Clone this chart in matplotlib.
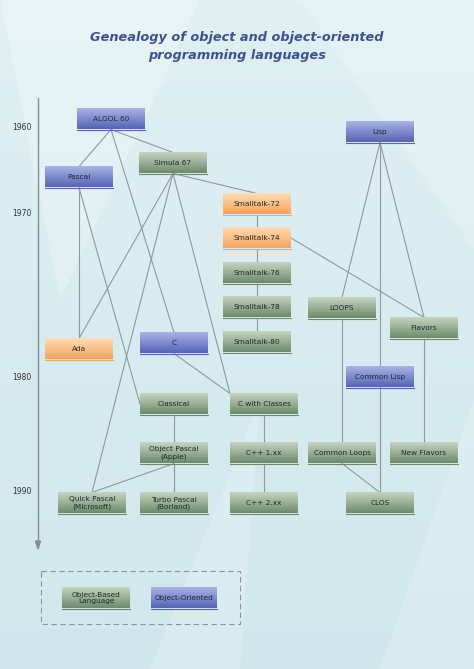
import matplotlib
matplotlib.use("Agg")
import matplotlib.pyplot as plt
import numpy as np
from matplotlib.patches import Rectangle, Polygon

# ---- data ----
years = ["1960", "1970", "1980", "1990"]
nodes = ["ALGOL 60", "Pascal", "Simula 67", "Smalltalk-72", "Smalltalk-74", "Smalltalk-76",
         "Smalltalk-78", "Smalltalk-80", "Lisp", "LOOPS", "Flavors", "Ada", "C", "Common Lisp",
         "Classical", "C with Classes", "Object Pascal\n(Apple)", "C++ 1.xx", "Common Loops",
         "New Flavors", "Quick Pascal\n(Microsoft)", "Turbo Pascal\n(Borland)", "C++ 2.xx", "CLOS"]
kinds = ["oo", "oo", "ob", "or", "or", "ob", "ob", "ob", "oo", "ob", "ob", "or", "oo", "oo",
         "ob", "ob", "ob", "ob", "ob", "ob", "ob", "ob", "ob", "ob"]
edges = [("ALGOL 60", "Pascal"), ("ALGOL 60", "Simula 67"), ("ALGOL 60", "C"),
         ("Simula 67", "Smalltalk-72"), ("Simula 67", "Ada"), ("Simula 67", "Quick Pascal\n(Microsoft)"),
         ("Simula 67", "C with Classes"), ("Pascal", "Ada"), ("Pascal", "Classical"),
         ("C", "C with Classes"), ("Smalltalk-72", "Smalltalk-74"), ("Smalltalk-74", "Smalltalk-76"),
         ("Smalltalk-76", "Smalltalk-78"), ("Smalltalk-78", "Smalltalk-80"), ("Smalltalk-74", "Flavors"),
         ("Lisp", "LOOPS"), ("Lisp", "Flavors"), ("Lisp", "CLOS"), ("LOOPS", "Common Loops"),
         ("Flavors", "New Flavors"), ("Common Loops", "CLOS"), ("Classical", "Object Pascal\n(Apple)"),
         ("Object Pascal\n(Apple)", "Turbo Pascal\n(Borland)"), ("Object Pascal\n(Apple)", "Quick Pascal\n(Microsoft)"),
         ("C with Classes", "C++ 1.xx"), ("C++ 1.xx", "C++ 2.xx")]
legend_labels = ["Object-Based\nLanguage", "Object-Oriented"]
legend_kinds = ["ob", "oo"]

# ---- layout (pixel coords) ----
pos = [(111, 119), (79, 177), (173, 163), (257, 204), (257, 238), (257, 273), (257, 307),
       (257, 342), (380, 132), (342, 308), (424, 328), (79, 349), (174, 343), (380, 377),
       (174, 404), (264, 404), (174, 453), (264, 453), (342, 453), (424, 453), (92, 503),
       (174, 503), (264, 503), (380, 503)]
year_y = [127, 213, 377, 491]
W, H = 68, 21
P = dict(zip(nodes, pos))
colors = {"oo": ("#aab2e6", "#5664b4"), "ob": ("#c6d4bf", "#6d8a6a"), "or": ("#ffdcb4", "#f5a45c")}

fig = plt.figure(figsize=(4.74, 6.69), dpi=100)
ax = fig.add_axes([0, 0, 1, 1])
ax.set_xlim(0, 474); ax.set_ylim(669, 0); ax.axis("off")

# background
bg = np.linspace(0, 1, 200)[:, None] * np.ones((1, 10))
ax.imshow(bg, extent=(0, 474, 669, 0), cmap=matplotlib.colors.LinearSegmentedColormap.from_list(
    "bg", ["#e0f0f3", "#cfe7ec"]), aspect="auto", zorder=0)
for pts, a in [([(0, 0), (200, 0), (60, 300)], 0.25), ([(300, 0), (474, 0), (474, 250)], 0.2),
               ([(150, 669), (260, 400), (240, 669)], 0.2), ([(380, 669), (474, 400), (474, 669)], 0.2)]:
    ax.add_patch(Polygon(pts, closed=True, color="white", alpha=a, lw=0, zorder=0.5))

ax.text(237, 37, "Genealogy of object and object-oriented", ha="center", va="center",
        fontsize=9.3, fontweight="bold", style="italic", color="#3b5290")
ax.text(237, 55, "programming languages", ha="center", va="center",
        fontsize=9.3, fontweight="bold", style="italic", color="#3b5290")

# timeline
ax.plot([38, 38], [98, 543], color="#7f8f95", lw=1, zorder=1)
ax.add_patch(Polygon([(35.5, 541), (40.5, 541), (38, 549)], closed=True, color="#7f8f95", zorder=1))
for yl, yy in zip(years, year_y):
    ax.text(22, yy, yl, ha="center", va="center", fontsize=5.5, color="#333")

def grad(cx, cy, w, h, kind, z=3):
    top, bot = colors[kind]
    cm = matplotlib.colors.LinearSegmentedColormap.from_list("g", [top, bot])
    ax.imshow(np.linspace(0, 1, 50)[:, None], extent=(cx - w / 2, cx + w / 2, cy + h / 2, cy - h / 2),
              cmap=cm, aspect="auto", zorder=z)
    ax.plot([cx - w / 2, cx + w / 2], [cy + h / 2, cy + h / 2], color=bot, lw=0.8, zorder=z + 0.1)

def anchor(a, b):
    (ax_, ay), (bx, by) = P[a], P[b]
    sx, sy = ax_, ay + H / 2
    ex, ey = bx, by - H / 2
    if b == "C with Classes" and a in ("Simula 67", "C"):
        ex = bx - W / 2
    if b == "Classical":
        ex, ey = bx - W / 2, by
    if b == "Flavors" and a == "Smalltalk-74":
        sx, sy = ax_ + W / 2, ay
    return sx, sy, ex, ey

for a, b in edges:
    sx, sy, ex, ey = anchor(a, b)
    ax.plot([sx, ex], [sy, ey], color="#8c9aa0", lw=0.8, zorder=2)

for n, (cx, cy), k in zip(nodes, pos, kinds):
    grad(cx, cy, W, H, k)
    ax.text(cx, cy, n, ha="center", va="center", fontsize=5.3, color="#1e2a30", zorder=4, linespacing=1.1)

# legend
ax.add_patch(Rectangle((41, 571), 199, 53, fill=False, ls=(0, (5, 3)), ec="#8a969c", lw=0.8, zorder=2))
for lab, k, (cx, w) in zip(legend_labels, legend_kinds, [(96, 68), (184, 66)]):
    grad(cx, 598, w, 21, k)
    ax.text(cx, 598, lab, ha="center", va="center", fontsize=5.3, color="#1e2a30", zorder=4, linespacing=1.1)

fig.savefig("out.png", dpi=100)
